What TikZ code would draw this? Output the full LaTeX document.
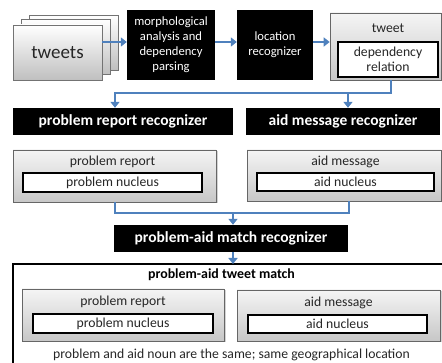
\documentclass[tikz,border=0pt]{standalone}
\usepackage{fontspec}
\setmainfont{Carlito}
\usetikzlibrary{arrows.meta,shadows,calc}
\definecolor{arrblue}{RGB}{79,129,189}
\tikzset{
  sheet/.style={draw=black!55, line width=0.6pt, top color=white, bottom color=black!25, minimum width=89pt, minimum height=55pt, inner sep=0pt},
  blackbox/.style={fill=black, text=white, inner sep=0pt, align=center},
  graybox/.style={draw=black!60, line width=0.6pt, top color=black!4, bottom color=black!22, inner sep=0pt,
     drop shadow={shadow xshift=1.5pt, shadow yshift=-1.5pt, opacity=0.35}},
  whitebox/.style={draw=black, line width=1.5pt, fill=white, inner sep=0pt},
  arr/.style={draw=arrblue, line width=1.8pt, -{Triangle[width=9pt,length=6pt]}},
  conn/.style={draw=arrblue, line width=1.8pt},
  lbl/.style={text=black!85, inner sep=0pt},
  boldlbl/.style={font=\fontsize{15.5}{18}\selectfont\bfseries},
  proclbl/.style={font=\fontsize{12.6}{15}\selectfont},
}
\begin{document}
\begin{tikzpicture}[x=1pt,y=-1pt,font=\fontsize{13.7}{14.6}\selectfont]
\useasboundingbox (0,0) rectangle (442,363);
\clip (0,0) rectangle (442,363);
% tweets stack
\node[sheet] (back) at (73.5,42.5) {};
\node[sheet] (mid) at (65.5,47) {};
\node[sheet] (front) at (57.5,52.5) {};
\node[lbl, font=\fontsize{19}{22}\selectfont] (tweetslbl) at (57.5,53) {tweets};
% processing boxes
\node[blackbox, proclbl, minimum width=88pt, minimum height=70pt] (morph) at (171,45) {morphological\\analysis and\\dependency\\parsing};
\node[blackbox, proclbl, minimum width=76pt, minimum height=70pt] (loc) at (275,45) {location\\recognizer};
\node[graybox, minimum width=111pt, minimum height=67pt] (tw) at (385.5,46.5) {};
\node[lbl] (twlbl) at (388,28) {tweet};
\node[whitebox, minimum width=100pt, minimum height=35pt, align=center, text=black!85] (dep) at (388,59.5) {dependency\\relation};
% recognizers
\node[blackbox, minimum width=220pt, minimum height=27pt, boldlbl] (prr) at (123,121.5) {problem report recognizer};
\node[blackbox, minimum width=194pt, minimum height=27pt, boldlbl] (amr) at (343,121.5) {aid message recognizer};
% outputs
\node[graybox, minimum width=203pt, minimum height=52pt] (pr) at (114.5,176) {};
\node[lbl] (prlbl) at (112.5,162) {problem report};
\node[whitebox, minimum width=179pt, minimum height=19pt, text=black!85] (pn) at (112.5,182.5) {problem nucleus};
\node[graybox, minimum width=194pt, minimum height=51pt] (am) at (344,175.5) {};
\node[lbl] (amlbl) at (345.5,162) {aid message};
\node[whitebox, minimum width=177pt, minimum height=18pt, text=black!85] (an) at (345.5,182) {aid nucleus};
% match recognizer
\node[blackbox, minimum width=234pt, minimum height=27pt, boldlbl] (pam) at (231,238.5) {problem-aid match recognizer};
% outer match box
\draw[line width=1.5pt] (460,264) -- (13,264) -- (13,380);
\coordinate (outtop) at (233,264);
\node[inner sep=0pt, font=\fontsize{13.9}{16}\selectfont\bfseries] (matchlbl) at (221.5,275) {problem-aid tweet match};
\node[graybox, minimum width=202pt, minimum height=52pt] (pr2) at (123,315) {};
\node[lbl] (pr2lbl) at (123,302) {problem report};
\node[whitebox, minimum width=180pt, minimum height=19pt, text=black!85] (pn2) at (123,323.5) {problem nucleus};
\node[graybox, minimum width=203pt, minimum height=51pt] (am2) at (338.5,315.5) {};
\node[lbl] (am2lbl) at (338.5,303) {aid message};
\node[whitebox, minimum width=179pt, minimum height=18pt, text=black!85] (an2) at (337.5,324) {aid nucleus};
\node[lbl] (cond) at (231.5,355) {problem and aid noun are the same; same geographical location};
% connectors
\draw[arr] (front.east |- 0,42) -- (morph.west |- 0,42);
\draw[arr] (morph.east |- 0,42) -- (loc.west |- 0,42);
\draw[arr] (loc.east |- 0,42) -- (tw.west |- 0,42);
\coordinate (j1) at (391,93);
\draw[conn] (tw.south -| j1) -- (j1) -- (115,93);
\draw[arr] (115,92.1) -- (prr.north -| 115,0);
\draw[arr] (348,93) -- (prr.north -| 348,0);
\coordinate (j2) at (115,213);
\draw[conn] (pr.south -| j2) -- (j2) -- (349,213) -- (am.south -| 349,0);
\draw[arr] (233,213) -- (pam.north -| 233,0);
\draw[arr] (pam.south -| outtop) -- (outtop);
\end{tikzpicture}
\end{document}
